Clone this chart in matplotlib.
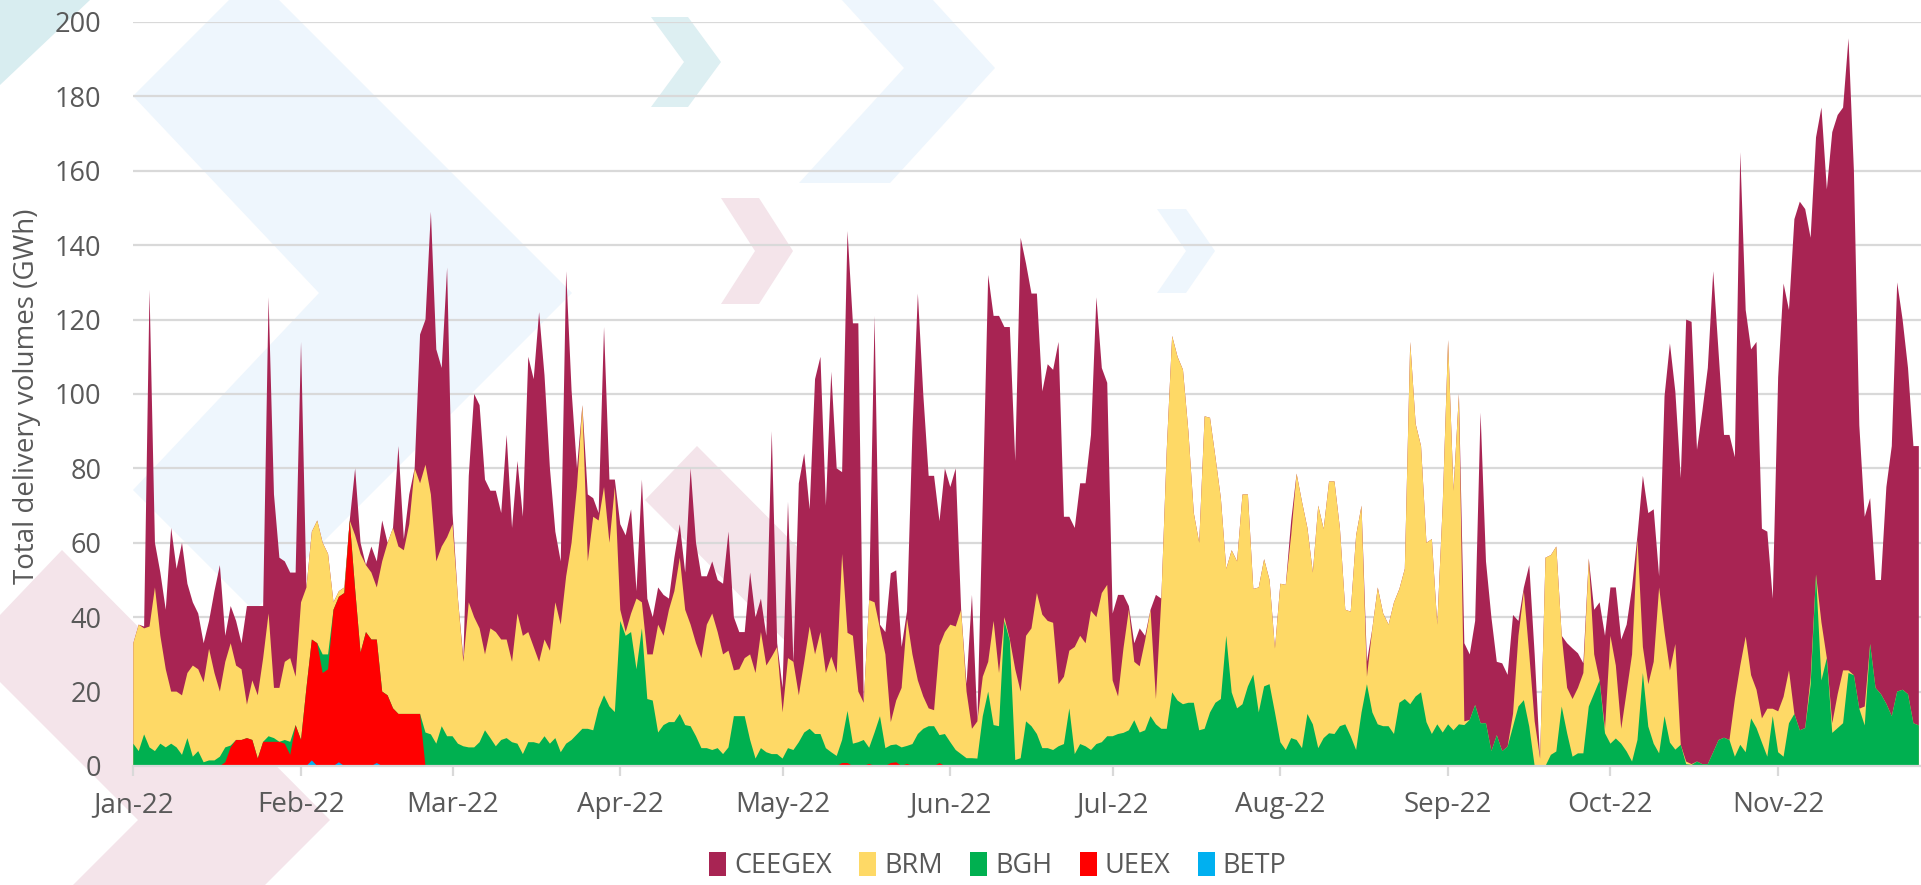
import numpy as np
import pandas as pd
import matplotlib
matplotlib.use("Agg")
import matplotlib.pyplot as plt
import matplotlib.dates as mdates
from matplotlib.patches import Polygon, Patch

# ---------------- data (daily delivery volumes, GWh) ----------------
start_date = "2022-01-01"

CEEGEX = (
    [0, 0, 0.5, 90.5, 12, 17, 16, 44, 33, 41, 24, 17, 15, 10.5, 7.5, 22, 34, 7, 10, 12,
     7, 26.5, 20, 24, 14, 85, 52, 35, 27, 23, 28]                                   # Jan
    + [70, 0, 0, 0, 0, 0, 0, 0, 0, 0, 18, 3, 0, 7, 7, 11, 0, 0, 27, 3,
       8, 0, 40, 39, 76, 57, 48, 72.5]                                               # Feb
    + [3, 0, 1, 34, 60, 60, 47, 37, 38, 34, 55, 36, 41, 32, 74, 72, 94, 71, 49, 19,
       17, 82, 41, 5, 0, 18, 5, 2, 43, 17, 2]                                        # Mar
    + [23, 26, 28, 2, 33, 15, 10, 10, 11, 3, 9, 9, 10, 42, 27, 22, 13, 14, 14, 19,
       32, 14.3, 10, 7, 22, 15, 9, 8, 60.6, 1]                                       # Apr
    + [6.6, 42, 0, 57, 56, 31.5, 74, 74, 45, 76.6, 55, 22, 108, 84, 99, 0, 0, 77, 1, 6,
       40, 35, 11, 2, 60, 104, 81.3, 62.5, 63, 33.4, 44]                             # May
    + [37, 42.5, 0, 2, 36, 0, 47, 104, 82, 96, 78, 84, 56, 122, 100, 90, 80.5, 60, 69, 68,
       92, 43, 36, 32, 41, 43, 47.3, 86, 60.5, 54.3]                                 # Jun
    + [18, 27.3, 14.4, 1, 5, 10.2, 1.3, 0, 28, 0, 0, 0, 0, 0, 0, 0, 0, 0, 0, 0,
       0, 0, 0, 0, 0, 0, 0, 0, 0, 0, 0]                                              # Jul
    + [0, 0, 4, 0, 0, 0, 0, 0, 0, 0, 0, 0, 0, 0, 0, 0, 4, 0, 0, 0,
       0, 0, 0, 0, 0, 0, 0, 0, 0, 0, 0]                                              # Aug
    + [0, 0, 0, 21, 17.6, 22.6, 83.5, 43.5, 36, 19.7, 23.6, 19.3, 26.6, 4, 1, 24, 18, 0, 0, 0,
       0, 0, 12, 13.6, 9.3, 2.6, 0, 12, 21, 25]                                      # Sep
    + [13, 21, 24, 18, 18, 1, 46, 46, 41, 3, 63.4, 87.9, 67.8, 71.7, 118.8, 118.9, 83.8, 95,
       106.5, 129.3, 104, 81.4, 82, 65, 138, 87.8, 87.6, 93.5, 51, 47.6, 29.6]        # Oct
    + [89.8, 111.1, 96.9, 133, 142.1, 139.5, 118.2, 117.5, 138.4, 126, 158.9, 155.7, 151.3,
       169.9, 135.6, 76.2, 51, 39.2, 29, 30.7, 58.3, 72.6, 110, 99.5, 87.7, 74.5, 75.1]  # Nov
)

BRM = (
    [27, 34, 28.5, 32.5, 44, 29, 21, 14, 15, 16, 17.5, 24.5, 22, 21.5, 30, 23.5, 17.5, 23,
     27.5, 20, 19, 9, 16, 17, 22.5, 33, 13.5, 14.5, 21, 22.5, 13]                     # Jan
    + [37, 27, 29, 33, 30, 27, 2, 1.5, 1.5, 0, 14.5, 26.5, 18, 18, 14, 35, 41, 48.5, 45, 44,
       51, 66, 62, 72, 64.5, 49, 48.3, 53.5]                                         # Feb
    + [57, 39, 22.7, 39, 35, 30.6, 20.4, 29.5, 30.7, 27, 26.5, 21.6, 35, 31.8, 29.6, 25.6,
       22, 26, 25, 36.5, 34.3, 45, 53, 66.5, 87, 45, 57.4, 50.5, 56, 44, 60.5]        # Mar
    + [3, 1, 5, 19, 7, 12, 12.4, 29, 24, 30.2, 35.2, 42, 31, 27.3, 25, 24.2, 33.2, 36.7,
       31.2, 26.8, 26, 12.3, 12.6, 15.6, 23, 23, 31.2, 23.3, 26.2, 28.8]             # Apr
    + [12.4, 24.2, 23.7, 12.6, 19, 27.5, 21.4, 27.4, 20.2, 25.7, 22.3, 50, 21, 29, 13.6, 10,
       39.7, 35, 23.6, 25.2, 6.2, 11.8, 16, 34.2, 24.1, 14.4, 8.7, 4.8, 4.3, 24.1, 27.4]  # May
    + [31.6, 33.2, 38.8, 17.9, 7.9, 10, 10.6, 8, 28, 14.3, 1, 0.3, 24.4, 17.9, 23, 26.3,
       37.9, 35.9, 34.2, 34.2, 16.7, 18.1, 15.5, 28.8, 29.1, 27.7, 37.4, 34.1, 40.1, 40.7]  # Jun
    + [15, 10.1, 22.7, 32.4, 15.7, 17.8, 24.1, 28.6, 6.8, 35, 75, 95.8, 92.4, 89.9, 73, 51,
       50.4, 84, 79.2, 66, 54, 18, 38.2, 39.5, 56.4, 51.6, 23, 33.6, 34.2, 28, 17.2]  # Jul
    + [42.6, 44.4, 54.5, 71.6, 66.2, 50, 40.8, 65.2, 56.2, 67.7, 67.9, 53.3, 30.8, 33.5,
       57.7, 55.6, 2, 22.6, 36.8, 30.3, 27.3, 35.4, 30.6, 35, 97.4, 73.3, 66.2, 48.2, 52.4,
       26.8, 61]                                                                     # Aug
    + [103.3, 64.4, 88.8, 1, 0, 0, 0, 0, 0, 0, 0, 0, 3.4, 19, 29.3, 19.4, 12, 2, 56, 53.7,
       55.1, 19, 12.2, 15.5, 17.6, 21.6, 39.8, 10.5, 0, 1.2]                         # Sep
    + [29, 19.6, 4, 16.1, 28.8, 54, 7, 11.4, 22, 44.6, 22.6, 19.4, 28.4, 0, 0.7, 0.2, 0, 0,
       0, 0, 0, 0, 0, 15.5, 21.3, 31.1, 11.6, 10.3, 6.5, 12.9, 2]                     # Oct
    + [11, 16.1, 14.2, 0, 0, 0, 2, 0, 15.6, 0, 2.6, 9.1, 14.2, 0.7, 0, 0, 5.1, 0, 0, 0,
       0, 0, 0, 0, 0, 0, 0]                                                          # Nov
)

BGH = (
    [6, 4, 8.5, 5, 4, 6, 5, 6, 5, 3, 7.5, 2.5, 4, 1, 1.5, 1.5, 2.5, 4, 0.5, 0,
     0, 0, 0, 0, 0, 1.5, 1, 0, 1, 3.5, 0]                                            # Jan
    + [0, 0, 0, 0, 5, 4, 0, 0, 0, 0, 0, 0, 0, 0, 0, 0, 0, 0, 0, 0,
       0, 0, 0, 9, 8.5, 6, 10.7, 8]                                                  # Feb
    + [8, 6, 5.3, 5, 5, 6.4, 9.6, 7.5, 5.3, 7, 7.5, 6.4, 6, 3.2, 6.4, 6.4, 6, 8, 6, 7.5,
       3.7, 6, 7, 8.5, 10, 10, 9.6, 15.5, 19, 16, 14.5]                               # Mar
    + [39, 35, 36, 26, 37, 18, 17.6, 9, 11, 11.8, 11.8, 14, 11, 10.7, 8, 4.8, 4.8, 4.3, 4.8,
       3.2, 5, 13.4, 13.4, 13.4, 7, 2, 4.8, 3.7, 3.2, 3.2]                            # Apr
    + [2, 4.8, 4.3, 6.4, 9, 10, 8.6, 8.6, 4.8, 3.7, 2.7, 6.2, 14, 6, 6.4, 7, 4.3, 9, 13.4,
       4.8, 4.8, 4.8, 5, 4.8, 5.9, 8.6, 10, 10.7, 10.7, 7.5, 8.6]                     # May
    + [6.4, 4.3, 3.2, 2.1, 2.1, 2, 13.4, 20, 11, 10.7, 39, 33.7, 1.6, 2.1, 12, 10.7, 8.6,
       4.8, 4.8, 4.3, 5.3, 5.9, 15.5, 3.2, 5.9, 5.3, 4.3, 5.9, 6.4, 8]                # Jun
    + [8, 8.6, 8.9, 9.6, 12.3, 9, 9.6, 13.4, 11.2, 10, 10, 19.8, 17.6, 16.6, 17, 17, 9.6,
       10, 14.4, 17, 18, 35, 19.8, 15.5, 16.6, 21.4, 24.6, 14.4, 21.4, 22, 14.4]      # Jul
    + [6.4, 4.3, 7.5, 7, 4.8, 14, 11.2, 4.8, 7.5, 8.8, 8.6, 10.7, 11.2, 8, 4.3, 14.4, 22,
       14.4, 11.2, 10.7, 10.7, 8.6, 17, 18, 16.6, 18.7, 19.8, 11.8, 8.6, 11.2, 9]     # Aug
    + [11.2, 9.6, 11.2, 11, 12.4, 16.4, 11.5, 11.5, 4, 8.3, 4, 5.2, 10.6, 16, 17.7, 10.6,
       0, 0, 0, 3, 3.9, 16, 8.8, 2.5, 3.4, 3.4, 16, 19.5, 23, 8.8]                   # Sep
    + [6, 7.4, 6, 3.9, 1.2, 7, 25, 10.6, 6, 3.4, 13.4, 6.3, 4.4, 5.7, 0.5, 0.3, 1.2, 0.5,
       0.5, 3.7, 7, 7.6, 7, 2.5, 5.7, 3.7, 12.8, 10.2, 6.3, 2.5, 13.4]               # Oct
    + [3.7, 2.5, 11.5, 14, 9.6, 10.2, 21.8, 51.5, 23, 29, 8.9, 10.2, 11.5, 25, 24.4, 15.4,
       10.9, 32.8, 21, 19.3, 16.7, 13.4, 20, 20.5, 19.3, 11.5, 10.9]                 # Nov
)

UEEX = (
    [0] * 17 + [1, 5, 7, 7, 7.5, 7, 2, 6.5, 6.5, 6.5, 6.5, 6, 3, 11]                  # Jan
    + [7, 21, 32.5, 33, 25, 26, 42, 44.5, 46.5, 66, 47.5, 30.5, 36, 34, 33.2, 20, 19,
       15.5, 14, 14, 14, 14, 14, 0, 0, 0, 0, 0]                                      # Feb
    + [0] * 72                                                                       # Mar-mid May
    + [0.8, 0.8, 0, 0, 0, 0.6, 0, 0, 0, 0.8, 1.0, 0, 0.6, 0, 0, 0, 0, 0, 0.8]          # May
    + [0] * 181                                                                      # Jun-Nov
)

BETP = [0] * 33 + [1.5, 0, 0, 0, 0, 1, 0, 0, 0, 0, 0, 0, 0.8] + [0] * 285

series_order_legend = ["CEEGEX", "BRM", "BGH", "UEEX", "BETP"]
series_colors = {"CEEGEX": "#A82453", "BRM": "#FED966", "BGH": "#00B050",
                 "UEEX": "#FF0000", "BETP": "#00B0F0"}
y_label = "Total delivery volumes (GWh)"

# ---------------- figure ----------------
W, H = 1921, 885
fig = plt.figure(figsize=(W / 100, H / 100), dpi=100)
fig.patch.set_facecolor("white")


def px(x, y):
    return (x / W, 1 - y / H)


def add_poly(pts, color):
    fig.patches.append(Polygon([px(*p) for p in pts], closed=True,
                               transform=fig.transFigure, facecolor=color,
                               edgecolor="none", zorder=-5))


def chevron(tx, ty, w, h, t, color):
    add_poly([(tx - w, ty - h), (tx - w + t, ty - h), (tx + t, ty),
              (tx - w + t, ty + h), (tx - w, ty + h), (tx, ty)], color)


# faint decorative background (slide watermark)
BLUE, TEAL, PINK = "#EEF6FD", "#DDEFF2", "#F4E4EA"
add_poly([(0, 0), (90, 0), (0, 85)], "#D8EDF0")
add_poly([(133, 96), (229, 0), (279, 0), (572, 293), (254, 611), (133, 490),
          (319, 293)], BLUE)
add_poly([(0, 615), (62, 550), (330, 820), (265, 885), (73, 885), (138, 820),
          (0, 682)], PINK)
chevron(684, 62, 33, 45, 37, TEAL)
chevron(904, 68, 105, 115, 91, BLUE)
chevron(755, 251, 34, 53, 38, PINK)
chevron(1186, 251, 29, 42, 29, BLUE)
add_poly([(645, 500), (697, 446), (860, 610), (808, 664)], PINK)

ax_left = 133.3 / W
ax_bottom = 1 - 766 / H
ax = fig.add_axes([ax_left, ax_bottom, 1 - ax_left, (766 - 22) / H])
ax.set_facecolor("none")
ax.set_zorder(1)

n_days = len(CEEGEX)
dates = pd.date_range(start_date, periods=n_days, freq="D")
stack_names = ["BETP", "UEEX", "BGH", "BRM", "CEEGEX"]   # bottom -> top
stack_vals = [BETP, UEEX, BGH, BRM, CEEGEX]
arrs = np.vstack([np.asarray(v, float)[:n_days] for v in stack_vals])
tops = np.cumsum(arrs, axis=0)
# paint from the top layer down so adjacent layers never leave seams
for i in range(len(stack_names) - 1, -1, -1):
    ax.fill_between(dates, 0, tops[i], facecolor=series_colors[stack_names[i]],
                    linewidth=0, zorder=2)

ax.set_ylim(0, 200)
ax.set_yticks(np.arange(0, 201, 20))
x0 = pd.Timestamp(start_date)
ax.set_xlim(x0, x0 + pd.Timedelta(days=330.4))
ax.xaxis.set_major_locator(mdates.MonthLocator())
ax.xaxis.set_major_formatter(mdates.DateFormatter("%b-%y"))

ax.yaxis.grid(True, color="#d9d9d9", linewidth=1.6, zorder=0)
ax.set_axisbelow(True)
for s in ["top", "right", "left"]:
    ax.spines[s].set_visible(False)
ax.spines["bottom"].set_color("#d9d9d9")
ax.spines["bottom"].set_linewidth(1.6)

font = "Open Sans"
ax.tick_params(axis="y", length=0, pad=23, labelsize=19.5, labelcolor="#595959")
ax.tick_params(axis="x", direction="out", length=7, width=1.6, color="#d9d9d9",
               pad=11, labelsize=20, labelcolor="#595959")
for lab in ax.get_xticklabels() + ax.get_yticklabels():
    lab.set_fontfamily(font)

fig.text(27 / W, 1 - 396 / H, y_label, rotation=90, ha="center", va="center",
         fontsize=20, color="#595959", fontfamily=font)

handles = [Patch(facecolor=series_colors[n], edgecolor="none") for n in series_order_legend]
leg = fig.legend(handles, series_order_legend, loc="center", ncol=5,
                 bbox_to_anchor=(998 / W, 1 - 866 / H), frameon=False,
                 handlelength=0.63, handleheight=1.0, handletextpad=0.3,
                 columnspacing=1.0, borderpad=0.1,
                 prop={"family": font, "size": 19.5})
for t in leg.get_texts():
    t.set_color("#595959")

fig.savefig("out.png", dpi=100, facecolor="white")
